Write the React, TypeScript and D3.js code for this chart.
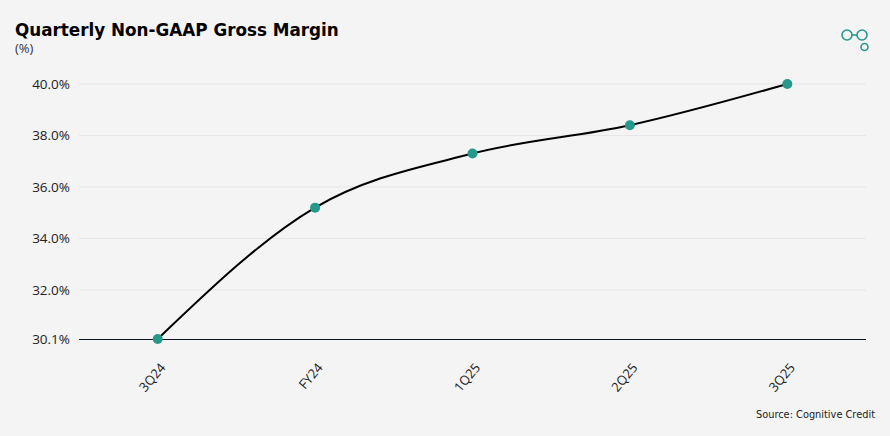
import { useEffect, useRef } from 'react';
import * as d3 from 'd3';

const quarters = ['3Q24', 'FY24', '1Q25', '2Q25', '3Q25'];
const grossMargin = [30.1, 35.2, 37.3, 38.4, 40.0];
const yTicks = [30.1, 32, 34, 36, 38, 40];

const W = 890;
const H = 436;

export default function App() {
  const svgRef = useRef<SVGSVGElement>(null);

  useEffect(() => {
    if (!svgRef.current) return;
    const svg = d3.select(svgRef.current);
    svg.selectAll('*').remove();

    const margin = { top: 84, right: 24, bottom: 97, left: 79 };
    const width = W - margin.left - margin.right;
    const height = H - margin.top - margin.bottom;
    const tickFont = "'Open Sans', 'Noto Sans', sans-serif";

    svg.append('rect').attr('width', W).attr('height', H).attr('fill', '#f4f4f4');

    const g = svg.append('g').attr('transform', `translate(${margin.left},${margin.top})`);

    const x = d3.scaleBand<string>().domain(quarters).range([0, width]).padding(0);
    const y = d3.scaleLinear().domain([30.1, 40]).range([height, 0]);
    const cx = (q: string) => (x(q) || 0) + x.bandwidth() / 2;

    // Gridlines
    g.selectAll('.grid')
      .data(yTicks.slice(1))
      .enter()
      .append('line')
      .attr('x1', 0)
      .attr('x2', width)
      .attr('y1', d => y(d))
      .attr('y2', d => y(d))
      .attr('stroke', '#e6e6e6')
      .attr('stroke-width', 1);

    // Baseline
    g.append('line')
      .attr('x1', 0)
      .attr('x2', width)
      .attr('y1', Math.round(y(30.1)) + 0.5)
      .attr('y2', Math.round(y(30.1)) + 0.5)
      .attr('stroke', '#0a1420')
      .attr('stroke-width', 1);

    // Y labels
    g.selectAll('.ylab')
      .data(yTicks)
      .enter()
      .append('text')
      .attr('x', -9)
      .attr('y', d => y(d))
      .attr('dy', '0.35em')
      .attr('text-anchor', 'end')
      .attr('fill', '#222')
      .style('font-family', tickFont)
      .style('font-size', '13.5px')
      .text(d => `${d.toFixed(1)}%`);

    // X labels
    g.selectAll('.xlab')
      .data(quarters)
      .enter()
      .append('text')
      .attr('transform', d => `translate(${cx(d) + 5},${height + 26}) rotate(-50)`)
      .attr('text-anchor', 'end')
      .attr('dy', '0.35em')
      .attr('fill', '#222')
      .style('font-family', tickFont)
      .style('font-size', '13px')
      .text(d => d);

    // Line
    const pts = quarters.map((q, i) => [cx(q), y(grossMargin[i])] as [number, number]);
    g.append('path')
      .attr('d', d3.line().curve(d3.curveMonotoneX)(pts) || '')
      .attr('fill', 'none')
      .attr('stroke', '#000')
      .attr('stroke-width', 2);

    g.selectAll('.pt')
      .data(quarters)
      .enter()
      .append('circle')
      .attr('cx', d => cx(d))
      .attr('cy', (_, i) => y(grossMargin[i]))
      .attr('r', 5)
      .attr('fill', '#26998a');

    // Title
    svg.append('text')
      .attr('x', 15)
      .attr('y', 36)
      .attr('fill', '#000')
      .style('font-family', "'DejaVu Sans', sans-serif")
      .style('font-size', '16.8px')
      .style('font-weight', 'bold')
      .text('Quarterly Non-GAAP Gross Margin');

    svg.append('text')
      .attr('x', 15)
      .attr('y', 53)
      .attr('fill', '#333')
      .style('font-family', tickFont)
      .style('font-size', '13px')
      .text('(%)');

    // Source
    svg.append('text')
      .attr('x', 875)
      .attr('y', 418)
      .attr('text-anchor', 'end')
      .attr('fill', '#222')
      .style('font-family', "'DejaVu Sans', sans-serif")
      .style('font-size', '9.8px')
      .text('Source: Cognitive Credit');

    // Logo
    const logo = svg.append('g').attr('stroke', '#26998a').attr('stroke-width', 1.6).attr('fill', 'none');
    logo.append('circle').attr('cx', 847).attr('cy', 35).attr('r', 5);
    logo.append('circle').attr('cx', 862).attr('cy', 35).attr('r', 5);
    logo.append('line').attr('x1', 852).attr('x2', 857).attr('y1', 35).attr('y2', 35);
    logo.append('circle').attr('cx', 864.5).attr('cy', 47).attr('r', 3.5);
  }, []);

  return (
    <>
      <style>{'body{margin:0;background:#f4f4f4}'}</style>
      <svg ref={svgRef} width={W} height={H} style={{ display: 'block' }} />
    </>
  );
}
